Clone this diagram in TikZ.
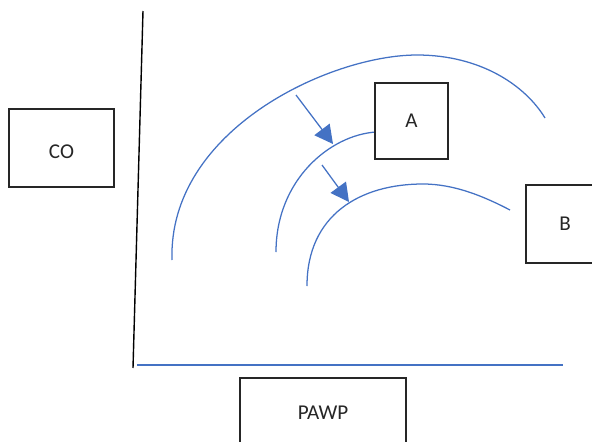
\documentclass[tikz,border=0pt]{standalone}
\usepackage{fontspec}
\setmainfont{Carlito}
\usetikzlibrary{arrows.meta}

\definecolor{wavblue}{HTML}{4472C4}
\definecolor{boxline}{HTML}{262626}

\tikzset{
    box/.style={draw=boxline, line width=1.4pt, fill=white,
        font=\fontsize{15}{18}\selectfont, text=boxline},
    wave/.style={wavblue, line width=0.9pt},
    push/.style={wavblue, line width=0.9pt,
        -{Triangle[length=13pt,width=13.5pt]}},
}

\begin{document}
\begin{tikzpicture}[x=0.025cm, y=-0.025cm]
    \useasboundingbox (0, 0) rectangle (592, 441);

    % axes
    \draw[line width=1pt]
        (143, 11) -- (133, 368);
    \draw[wave]
        (137, 365) -- (563, 365);

    % the three fronts
    \draw[wave]
        (172, 260) .. controls (168, 130) and (330, 55) .. (417, 55)
        .. controls (480, 55) and (525, 85) .. (545, 118);
    \draw[wave]
        (276, 252) .. controls (276, 180) and (330, 135) .. (376, 132);
    \draw[wave]
        (307, 286) .. controls (307, 215) and (360, 184) .. (423, 184)
        .. controls (455, 184) and (485, 197) .. (510, 210);

    \node[box, minimum width=2.625cm, minimum height=1.95cm,
        text height=0.55cm] (co) at (61.5, 148) {CO};
    \node[box, minimum width=1.825cm, minimum height=1.9cm]
        (a) at (411.5, 121) {A};
    \node[box, minimum width=1.95cm, minimum height=1.95cm]
        (b) at (565, 224) {B};
    \node[box, minimum width=4.125cm, minimum height=1.75cm]
        (pawp) at (323, 413) {PAWP};

    \coordinate (p1) at (296, 95);
    \coordinate (q1) at (333, 144);
    \coordinate (p2) at (322, 165);
    \coordinate (q2) at (349, 202);
    \draw[push] (p1) -- (q1);
    \draw[push] (p2) -- (q2);
\end{tikzpicture}
\end{document}
